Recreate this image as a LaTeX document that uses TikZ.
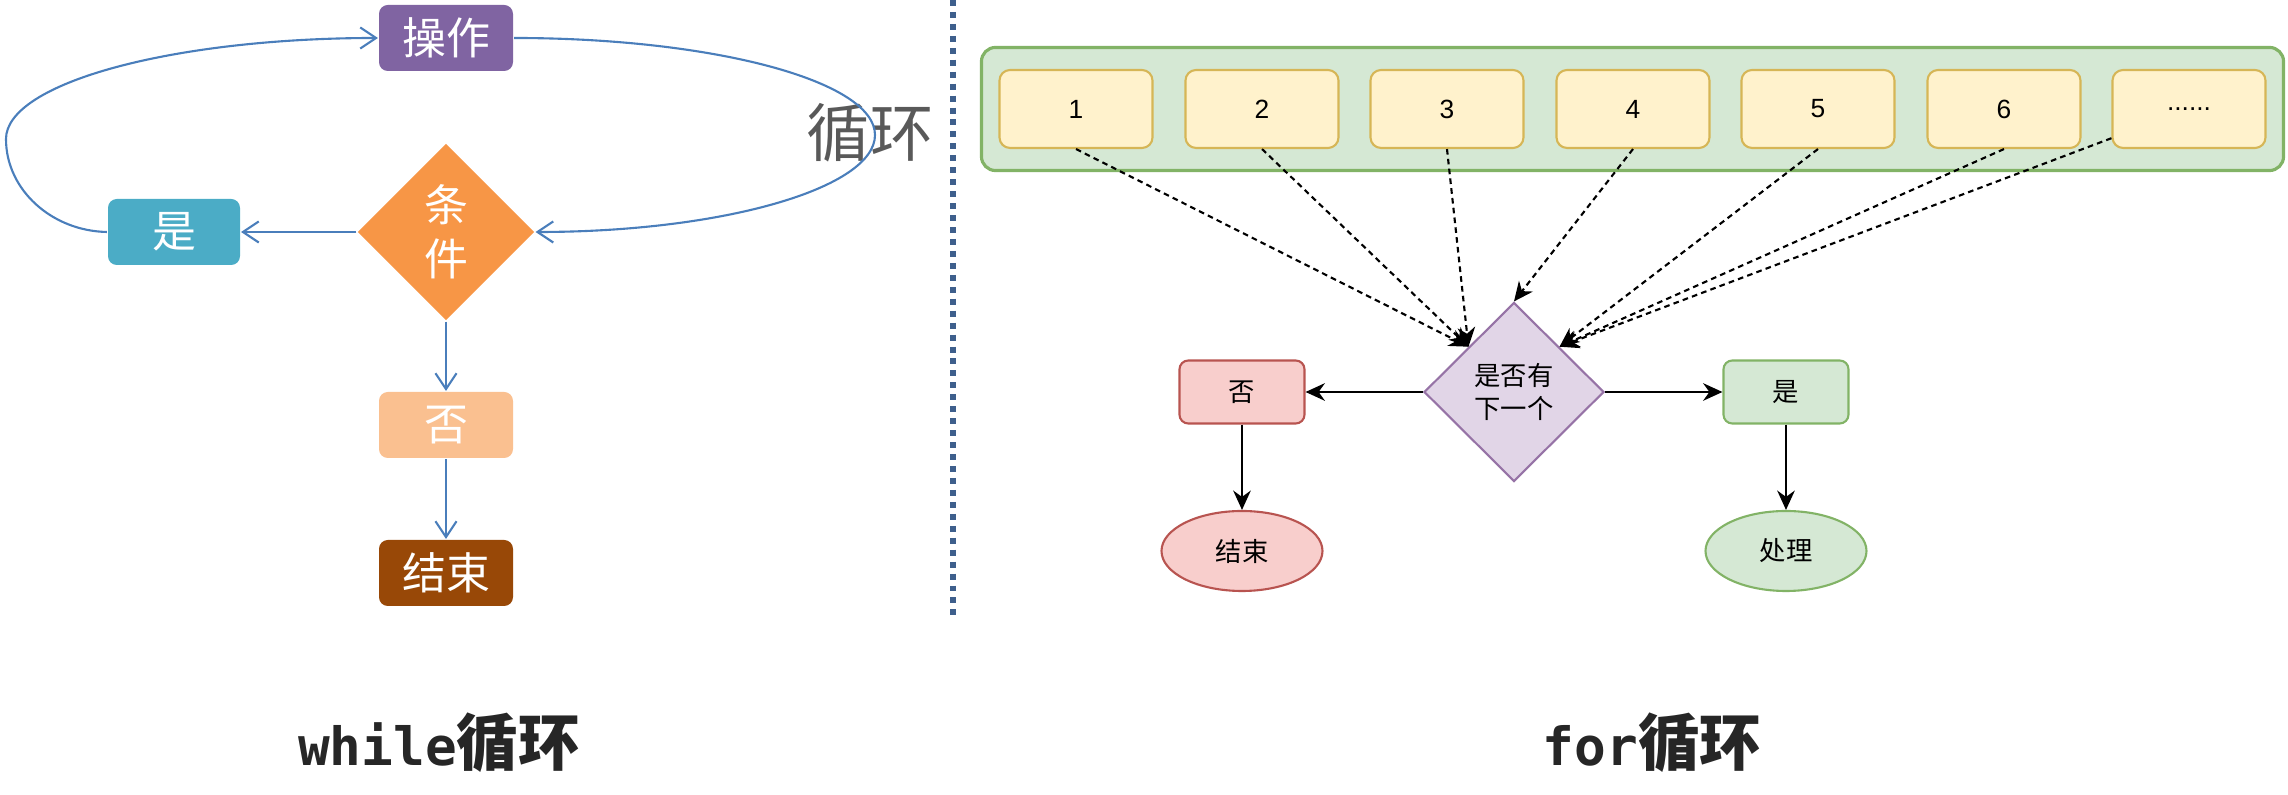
\documentclass[tikz,border=0pt]{standalone}
\usepackage{fontspec}
\setmainfont{Liberation Sans}
\newfontfamily\cjk{Noto Sans CJK SC}
\newfontfamily\codefont{DejaVu Sans Mono}
\usetikzlibrary{arrows.meta, positioning, calc, shapes.geometric,
                backgrounds, fit}
\definecolor{opc}{HTML}{8064A2}
\definecolor{yesc}{HTML}{4BACC6}
\definecolor{condc}{HTML}{F79646}
\definecolor{noc}{HTML}{FAC090}
\definecolor{endc}{HTML}{984807}
\definecolor{flowc}{HTML}{4A7EBB}
\definecolor{sepc}{HTML}{3E5F8C}
\definecolor{cellf}{HTML}{FFF2CC}
\definecolor{celld}{HTML}{D6B656}
\definecolor{grnf}{HTML}{D5E8D4}
\definecolor{grnd}{HTML}{82B366}
\definecolor{redf}{HTML}{F8CECC}
\definecolor{redd}{HTML}{B85450}
\definecolor{purf}{HTML}{E1D5E7}
\definecolor{purd}{HTML}{9673A6}

\begin{document}
\begin{tikzpicture}[>={Stealth[length=5.5pt,width=5pt]}, line width=0.6pt,
      blk/.style={rounded corners=2.5pt, text=white, inner sep=0pt,
                  font=\cjk\fontsize{12.5}{15}\selectfont,
                  minimum width=1.34cm, minimum height=0.66cm},
      flow/.style={draw=flowc, line width=0.6pt,
                   -{Straight Barb[length=4.5pt,width=6pt]}},
      cell/.style={rounded corners=3pt, draw=celld, fill=cellf,
                   font=\fontsize{7.5}{9}\selectfont,
                   minimum width=1.53cm, minimum height=0.78cm},
      tag/.style={rounded corners=2.5pt, font=\cjk\fontsize{7.5}{9}\selectfont,
                  minimum width=1.25cm, minimum height=0.63cm},
      oval/.style={ellipse, font=\cjk\fontsize{7.5}{9}\selectfont,
                   minimum width=1.61cm, minimum height=0.80cm},
      ttl/.style={text=black!85, font=\cjk\bfseries\fontsize{17.5}{20}\selectfont},
      feed/.style={->, dash pattern=on 1.6pt off 1.2pt}]
    \useasboundingbox (0,0) rectangle (22.88,-7.95);

    % while
    \node[blk, fill=opc] (op) at (4.46,-0.38) {操作};
    \node[blk, fill=yesc, minimum width=1.32cm] (yes) at (1.74,-2.32) {是};
    \node[diamond, fill=condc, text=white, inner sep=0pt, align=center,
          minimum width=1.77cm, minimum height=1.77cm,
          font=\cjk\fontsize{12.5}{15.5}\selectfont] (cond) at (4.46,-2.32) {条\\件};
    \node[blk, fill=noc] (no) at (4.46,-4.25) {否};
    \node[blk, fill=endc] (end) at (4.46,-5.73) {结束};
    \node[text=black!65, font=\cjk\fontsize{18}{18}\selectfont] (lp) at (8.70,-1.33) {循环};
    \draw[flow] (cond) -- (yes);
    \draw[flow] (cond) -- (no);
    \draw[flow] (no) -- (end);
    \draw[flow] (yes.west) .. controls (0.52,-2.31) and (0.06,-1.90) .. (0.06,-1.39)
                .. controls (0.06,-0.83) and (1.73,-0.38) .. (op.west);
    \draw[flow] (op.east) .. controls (7.13,-0.38) and (8.75,-0.81) .. (8.75,-1.35)
                .. controls (8.75,-1.88) and (7.23,-2.32) .. (cond.east);

    \draw[sepc, line width=1.7pt, dash pattern=on 1.7pt off 1.7pt] (9.53,0) -- (9.53,-6.18);

    % for
    \node[cell] (b1) at (10.76,-1.09) {1};
    \node[cell] (b2) at (12.62,-1.09) {2};
    \node[cell] (b3) at (14.47,-1.09) {3};
    \node[cell] (b4) at (16.33,-1.09) {4};
    \node[cell] (b5) at (18.18,-1.09) {5};
    \node[cell] (b6) at (20.04,-1.09) {6};
    \node[cell] (b7) at (21.89,-1.09) {......};
    \begin{scope}[on background layer]
      \node[rounded corners=4pt, draw=grnd, fill=grnf, line width=0.9pt,
            inner xsep=0.17cm, inner ysep=0.215cm, fit=(b1)(b7)] (arr) {};
    \end{scope}
    \node[diamond, draw=purd, fill=purf, inner sep=0pt, align=center,
          minimum width=1.80cm, minimum height=1.79cm,
          font=\cjk\fontsize{7.5}{9.5}\selectfont] (dec) at (15.14,-3.92) {是否有\\下一个};
    \node[tag, draw=redd, fill=redf] (no2) at (12.42,-3.92) {否};
    \node[tag, draw=grnd, fill=grnf] (yes2) at (17.86,-3.92) {是};
    \node[oval, draw=redd, fill=redf] (fin) at (12.42,-5.51) {结束};
    \node[oval, draw=grnd, fill=grnf] (proc) at (17.86,-5.51) {处理};
    \coordinate (inL) at ($(dec.north)!.5!(dec.west)$);
    \coordinate (inR) at ($(dec.north)!.5!(dec.east)$);
    \draw[->] (dec) -- (no2);
    \draw[->] (dec) -- (yes2);
    \draw[->] (no2) -- (fin);
    \draw[->] (yes2) -- (proc);
    \draw[feed] (b1.south) -- (inL);
    \draw[feed] (b2.south) -- (inL);
    \draw[feed] (b3.south) -- (inL);
    \draw[feed] (b4.south) -- (dec.north);
    \draw[feed] (b5.south) -- (inR);
    \draw[feed] (b6.south) -- (inR);
    \draw[feed] (b7) -- (inR);

    \node[ttl] (wt) at (4.39,-7.43) {{\codefont\fontsize{15}{20}\selectfont while}循环};
    \node[ttl] (ft) at (16.52,-7.43) {{\codefont\fontsize{15}{20}\selectfont for}循环};
  \end{tikzpicture}
\end{document}
